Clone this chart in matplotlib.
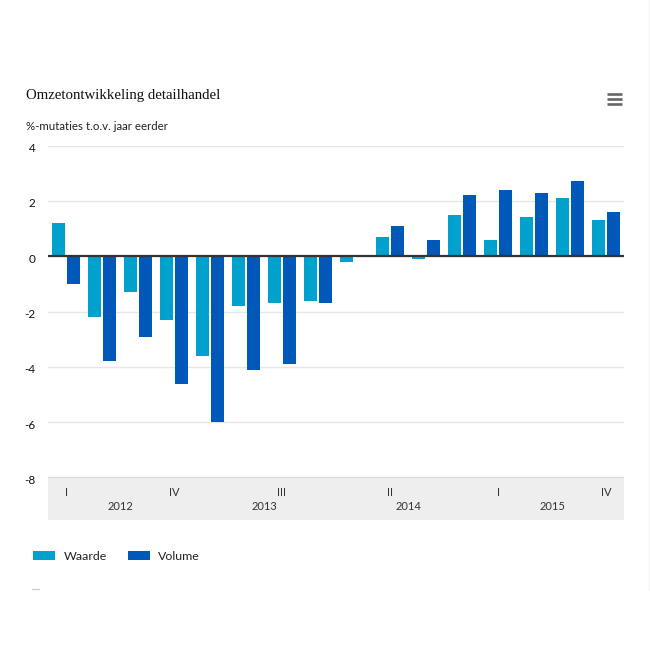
import numpy as np
import matplotlib
matplotlib.use('Agg')
import matplotlib.pyplot as plt
from matplotlib.lines import Line2D
from matplotlib.transforms import ScaledTranslation

plt.rcParams['font.family'] = ['Lato', 'DejaVu Sans']
plt.rcParams['axes.unicode_minus'] = False

waarde = [1.2, -2.2, -1.3, -2.3, -3.6, -1.8, -1.7, -1.6, -0.2, 0.7, -0.1, 1.5, 0.6, 1.4, 2.1, 1.3]
volume = [-1.0, -3.8, -2.9, -4.6, -6.0, -4.1, -3.9, -1.7, 0.0, 1.1, 0.6, 2.2, 2.4, 2.3, 2.7, 1.6]
quarter_pos = [0, 3, 6, 9, 12, 15]
quarter_labels = ['I', 'IV', 'III', 'II', 'I', 'IV']
year_pos = [1.5, 5.5, 9.5, 13.5]
year_labels = ['2012', '2013', '2014', '2015']
y_ticks = [-8, -6, -4, -2, 0, 2, 4]

W = H = 650.0


def fx(px):
    return px / W


def fy(px):
    return 1 - px / H


fig = plt.figure(figsize=(6.5, 6.5), dpi=100, facecolor='white')

# grey band under the plot holds the axis labels
band = fig.add_axes([fx(48), fy(520), fx(624) - fx(48), fy(478) - fy(520)], facecolor='#eeeeee')
band.set_xticks([])
band.set_yticks([])
for s in band.spines.values():
    s.set_visible(False)

ax = fig.add_axes([fx(48), fy(477.7), fx(624) - fx(48), fy(145.5) - fy(477.7)])
ax.patch.set_alpha(0)
x = np.arange(len(waarde))
ax.bar(x - 0.208, waarde, 0.37, color='#00a1cd', label='Waarde', zorder=2)
ax.bar(x + 0.208, volume, 0.37, color='#0058b8', label='Volume', zorder=2)
ax.set_xlim(-0.5, 15.5)
ax.set_ylim(-8, 4)

ax.set_yticks(y_ticks)
ax.yaxis.grid(True, color='#e6e6e6', lw=1, zorder=0)
ax.axhline(0, color='#333333', lw=1.6, zorder=3)
ax.axhline(-8, color='#d8d8d8', lw=1.6, zorder=3)
for s in ax.spines.values():
    s.set_visible(False)

ax.tick_params(axis='y', length=0, pad=9, labelsize=8.5, labelcolor='#111111')
shift = ScaledTranslation(0, -2 / 100, fig.dpi_scale_trans)
for lab in ax.get_yticklabels():
    lab.set_transform(lab.get_transform() + shift)

ax.set_xticks(quarter_pos)
ax.set_xticklabels(quarter_labels)
ax.set_xticks(year_pos, minor=True)
ax.set_xticklabels(year_labels, minor=True)
ax.tick_params(axis='x', which='major', length=0, pad=6.5, labelsize=8, labelcolor='#333333')
ax.tick_params(axis='x', which='minor', length=0, pad=17, labelsize=8, labelcolor='#333333')

fig.text(fx(26), fy(95.5), 'Omzetontwikkeling detailhandel', family='Liberation Serif',
         fontsize=10.75, color='#111111', va='center')
fig.text(fx(26), fy(127), '%-mutaties t.o.v. jaar eerder', fontsize=8.3, color='#222222', va='center')

# hamburger menu icon
for py in [93.5, 98.5, 103.5]:
    fig.add_artist(Line2D([fx(607), fx(622)], [fy(py), fy(py)], color='#666666', lw=1.9,
                          solid_capstyle='butt'))

# faint leftovers from the screenshot
fig.add_artist(Line2D([fx(649), fx(649)], [fy(0), fy(590)], color='#f4f4f4', lw=1))
fig.add_artist(Line2D([fx(32), fx(39)], [fy(589), fy(589)], color='#d0d0d0', lw=1))

ax.legend(loc='center left', bbox_to_anchor=(fx(33), fy(556)), bbox_transform=fig.transFigure,
          ncol=2, frameon=False, fontsize=8.9, handlelength=1.78, handleheight=0.72,
          handletextpad=0.72, columnspacing=1.65, borderpad=0, borderaxespad=0,
          labelcolor='#222222')

fig.savefig('out.png', dpi=100, facecolor='white')
